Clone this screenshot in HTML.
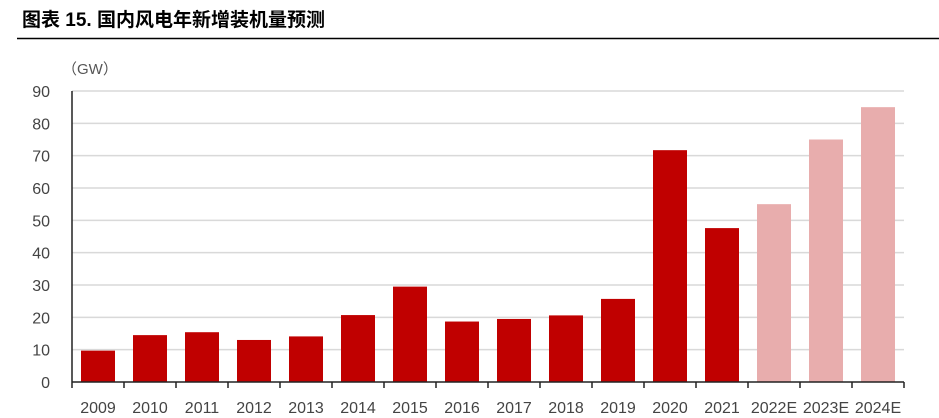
<!DOCTYPE html>
<html><head><meta charset="utf-8"><style>
body{margin:0;background:#fff;width:939px;height:418px;overflow:hidden;font-family:"Liberation Sans","Noto Sans CJK SC",sans-serif}
</style></head><body>
<svg width="939" height="418" style="position:absolute;left:0;top:0">
<text x="22" y="26" font-size="19" font-weight="bold" fill="#000" font-family="Liberation Sans, Noto Sans CJK SC, sans-serif">图表 15. 国内风电年新增装机量预测</text>
<line x1="17" y1="38.5" x2="939" y2="38.5" stroke="#000" stroke-width="1.5"/>
<text x="62" y="74" font-size="15" fill="#555">（GW）</text>
<g id="grid"></g><g id="bars"></g><g id="axes"></g>
</svg>
<script>
const categories=["2009","2010","2011","2012","2013","2014","2015","2016","2017","2018","2019","2020","2021","2022E","2023E","2024E"];
const values=[9.7,14.5,15.4,13,14.1,20.7,29.5,18.7,19.5,20.6,25.7,71.7,47.6,55,75,85];
const forecast=[false,false,false,false,false,false,false,false,false,false,false,false,false,true,true,true];
const yTicks=[0,10,20,30,40,50,60,70,80,90];
const NS="http://www.w3.org/2000/svg";
const x0=72,bw=52,y0=382,yTop=91,yMax=90;
const y=v=>y0-(v/yMax)*(y0-yTop);
function mk(t,a,p){const e=document.createElementNS(NS,t);for(const k in a)e.setAttribute(k,a[k]);p.appendChild(e);return e;}
const grid=document.getElementById('grid'),bars=document.getElementById('bars'),axes=document.getElementById('axes');
yTicks.forEach(v=>{
 if(v>0){const l=mk('line',{x1:x0,x2:x0+bw*categories.length,y1:y(v),y2:y(v),stroke:'#d9d9d9','stroke-width':1.5},grid);
 
 }
 const t=mk('text',{x:50,y:y(v)+6,'font-size':16,fill:'#444','text-anchor':'end'},axes);t.textContent=v;
 
 
});
categories.forEach((c,i)=>{
 const r=mk('rect',{x:x0+i*bw+9,y:y(values[i]),width:34,height:y0-y(values[i]),fill:forecast[i]?'#e8adad':'#c00000'},bars);
 
 
 const t=mk('text',{x:x0+i*bw+26,y:413,'font-size':16,fill:'#444','text-anchor':'middle'},axes);t.textContent=c;
 
 
});
for(let i=0;i<=categories.length;i++){mk('line',{x1:x0+i*bw,x2:x0+i*bw,y1:y0,y2:y0+6,stroke:'#222','stroke-width':1.5},axes);}
const ya=mk('line',{x1:x0,x2:x0,y1:yTop,y2:y0,stroke:'#222','stroke-width':1.5},axes);


const xa=mk('line',{x1:x0,x2:x0+bw*categories.length,y1:y0,y2:y0,stroke:'#222','stroke-width':1.5},axes);


</script>
</body></html>
